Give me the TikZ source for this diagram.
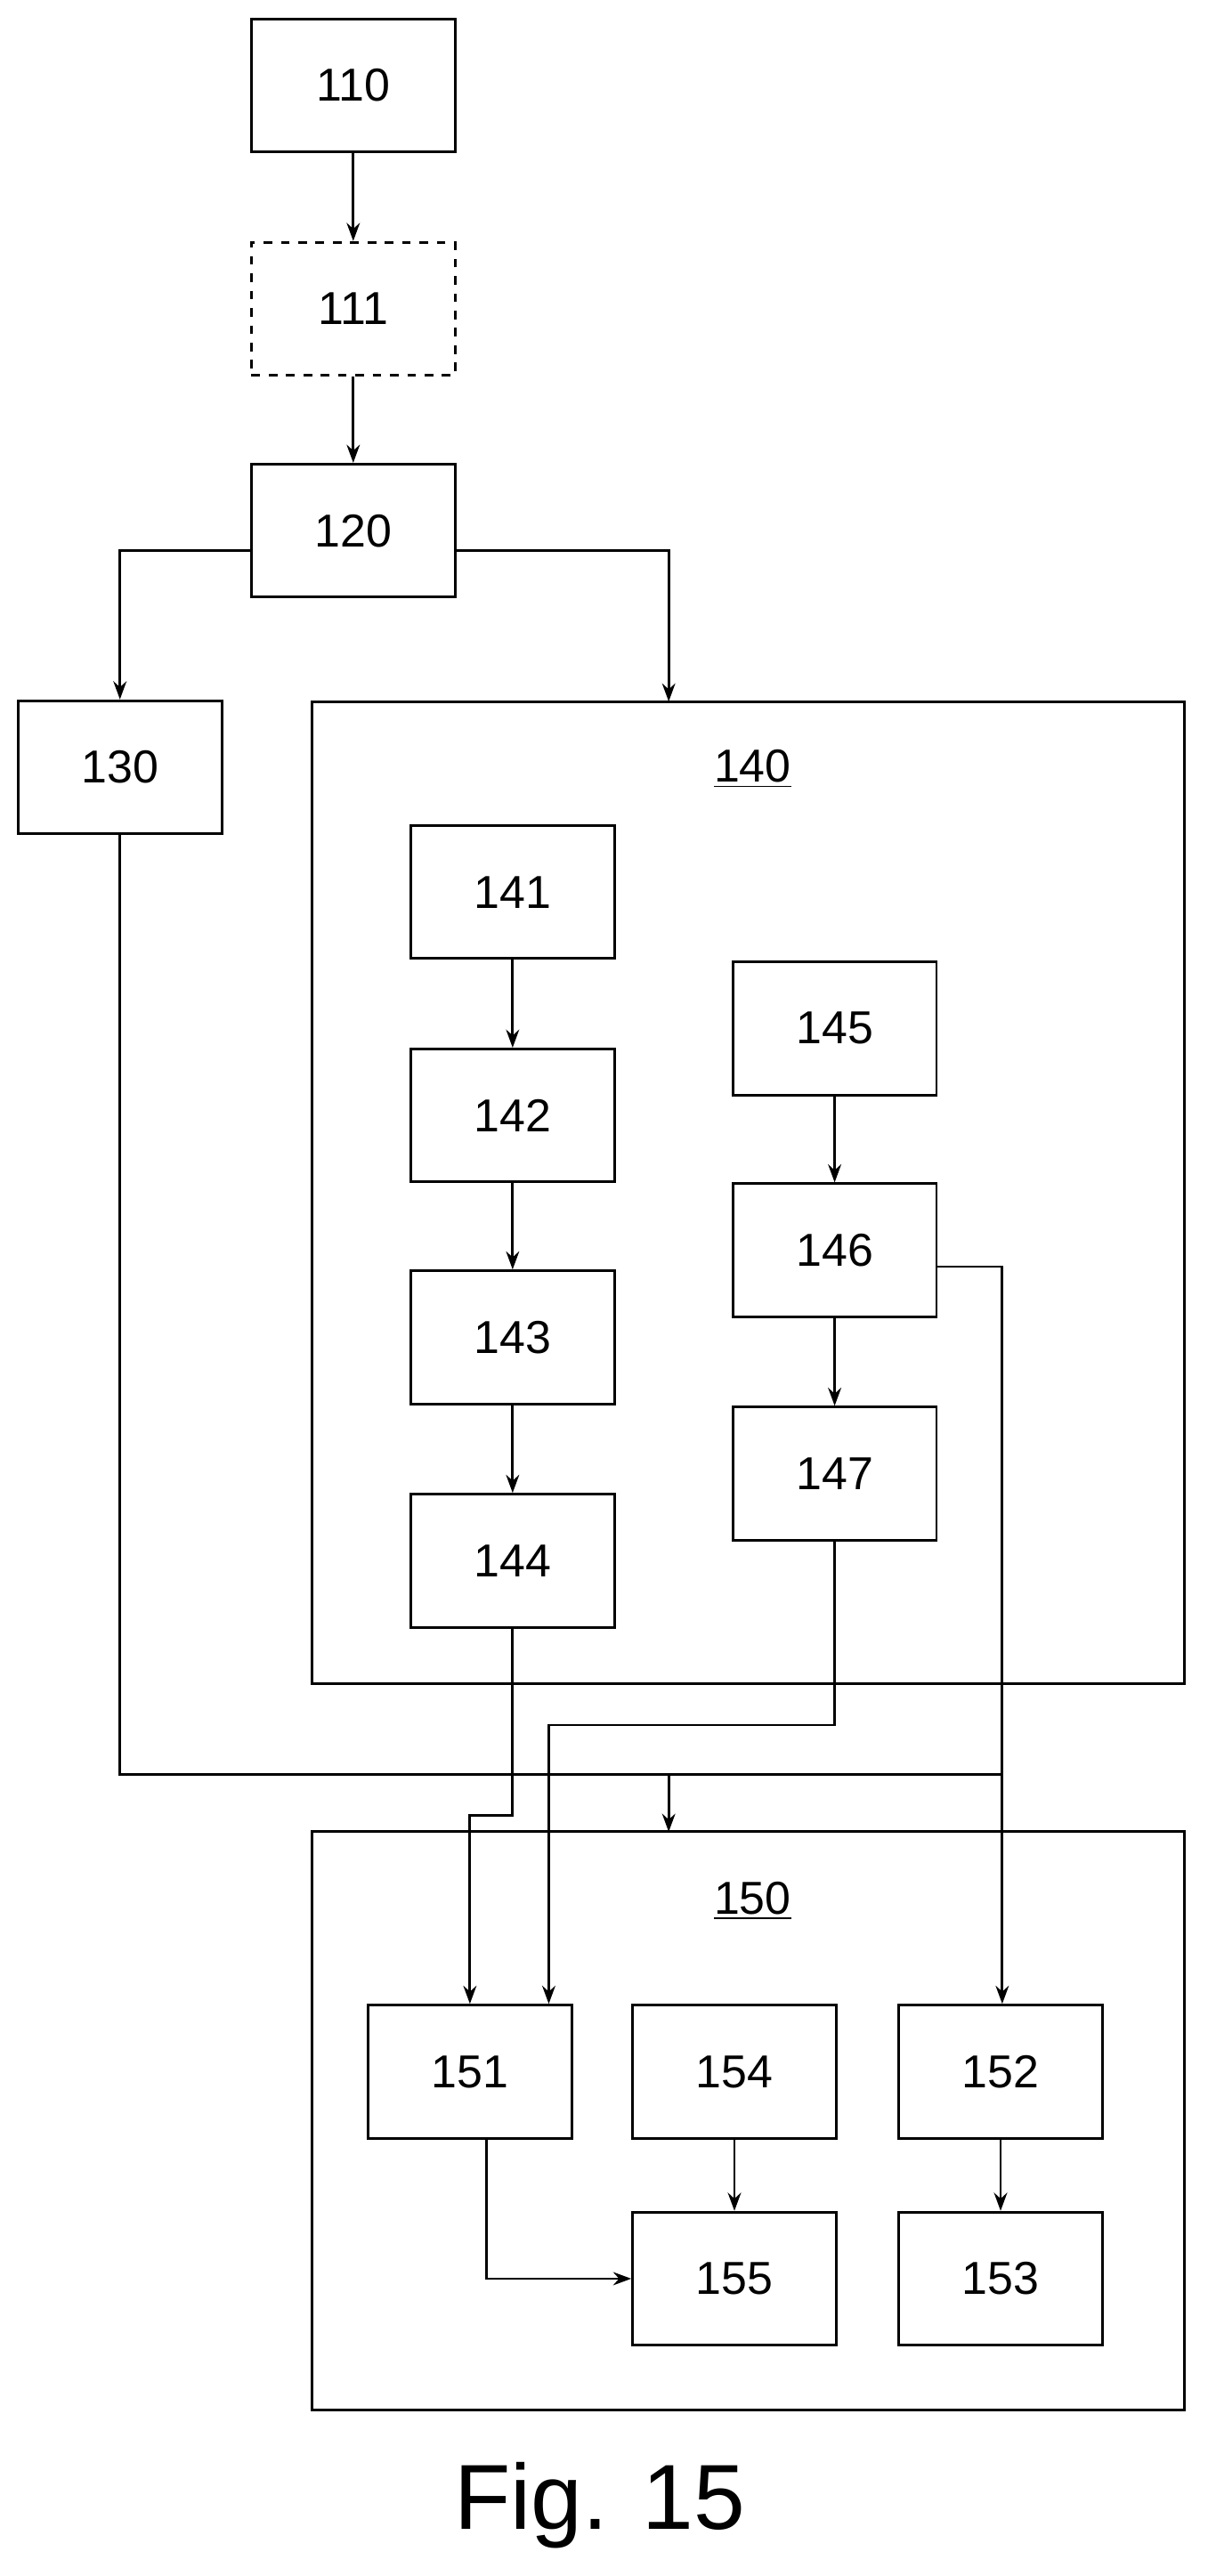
\documentclass[tikz,border=0pt]{standalone}
\usepackage{fontspec}
\setmainfont{Liberation Sans}
\usetikzlibrary{arrows.meta}

\tikzset{
  blk/.style={draw, line width=0.9pt, minimum width=2.48cm, minimum height=1.62cm, inner sep=0pt, font=\fontsize{16}{18}\selectfont},
  frame/.style={draw, line width=0.9pt},
  conn/.style={line width=0.9pt, -{Stealth[length=2.2mm, width=1.6mm]}},
  ln/.style={line width=0.9pt}
}

\begin{document}
\begin{tikzpicture}[x=0.02cm, y=-0.02cm]
\useasboundingbox (0,0) rectangle (735,1568);

% outer frames
\draw[frame] (190,427) rectangle (721,1025);
\node[font=\fontsize{16}{18}\selectfont] (l140) at (458,468) {\underline{140}};
\draw[frame] (190,1115) rectangle (721,1467);
\node[font=\fontsize{16}{18}\selectfont] (l150) at (458,1157) {\underline{150}};
\coordinate (t140) at (407,427);
\coordinate (t150) at (407,1115);

% blocks
\node[blk] (b110) at (215,52) {110};
\node[blk, dashed] (b111) at (215,188) {111};
\node[blk] (b120) at (215,323) {120};
\node[blk] (b130) at (73,467) {130};

\node[blk] (b141) at (312,543) {141};
\node[blk] (b142) at (312,679) {142};
\node[blk] (b143) at (312,814) {143};
\node[blk] (b144) at (312,950) {144};
\node[blk] (b145) at (508,626) {145};
\node[blk] (b146) at (508,761) {146};
\node[blk] (b147) at (508,897) {147};

\node[blk] (b151) at (286,1261) {151};
\node[blk] (b154) at (447,1261) {154};
\node[blk] (b152) at (609,1261) {152};
\node[blk] (b155) at (447,1387) {155};
\node[blk] (b153) at (609,1387) {153};

\node[font=\fontsize{32}{36}\selectfont] (fig) at (365,1525) {Fig. 15};

% connectors
\draw[conn] (b110) -- (b111);
\draw[conn] (b111) -- (b120);
\draw[conn] (b120.west |- 0,335) -| (b130.north);
\draw[conn] (b120.east |- 0,335) -| (t140);
\draw[conn] (b141) -- (b142);
\draw[conn] (b142) -- (b143);
\draw[conn] (b143) -- (b144);
\draw[conn] (b145) -- (b146);
\draw[conn] (b146) -- (b147);

\draw[ln] (b130.south) |- (610,1080);
\draw[conn] (407,1080) -- (t150);
\draw[conn] (b146.east |- 0,771) -| (b152.north -| 610,0);
\draw[conn] (b144.south) |- (286,1105) -- (b151.north -| 286,0);
\draw[conn] (b147.south) |- (334,1050) -- (b151.north -| 334,0);
\draw[conn] (b151.south -| 296,0) |- (b155.west);
\draw[conn] (b154) -- (b155);
\draw[conn] (b152) -- (b153);
\end{tikzpicture}
\end{document}
